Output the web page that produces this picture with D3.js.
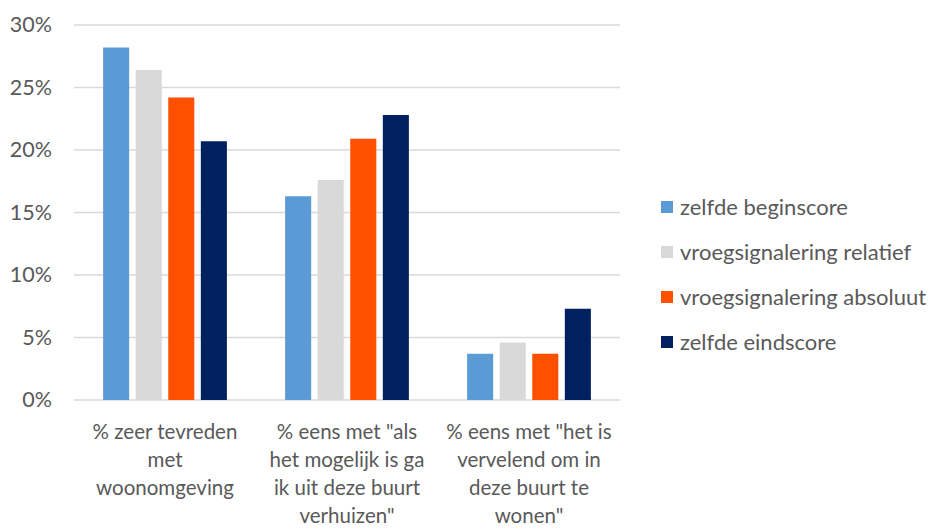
<html>
<head>
<style type="text/css">
	body { margin: 0; background: white; }
	.chart text { font-family: Lato, "Open Sans", sans-serif; fill: #595959; }
</style>
</head>
<body>
<svg class="chart" width="935" height="529"></svg>
<script src="https://d3js.org/d3.v7.min.js"></script>
<script>
// categories, each one already split into lines like in the picture
var categories = ["tevreden", "verhuizen", "vervelend"];
var categoryLines = [
	["% zeer tevreden", "met", "woonomgeving"],
	["% eens met \"als", "het mogelijk is ga", "ik uit deze buurt", "verhuizen\""],
	["% eens met \"het is", "vervelend om in", "deze buurt te", "wonen\""]
];

var seriesNames = ["zelfde beginscore", "vroegsignalering relatief", "vroegsignalering absoluut", "zelfde eindscore"];
var seriesColors = ["#5b9bd5", "#d9d9d9", "#ff5000", "#002060"];

// values in percent, one array per series, same order as categories
var beginscore = [28.2, 16.3, 3.7];
var relatief = [26.4, 17.6, 4.6];
var absoluut = [24.2, 20.9, 3.7];
var eindscore = [20.7, 22.8, 7.3];
var seriesValues = [beginscore, relatief, absoluut, eindscore];

var yTicks = [0, 5, 10, 15, 20, 25, 30];

var svg = d3.select("svg");

//Define Scales
var x0 = d3.scaleBand()
	.domain(categories)
	.range([74, 620])
	.paddingInner(0.32)
	.paddingOuter(0.16);

var x1 = d3.scaleBand()
	.domain(seriesNames)
	.range([0, x0.bandwidth()])
	.paddingInner(0.2);

var y = d3.scaleLinear()
	.domain([0, 30])
	.range([400, 25]);

//gridlines
svg.append("g")
	.selectAll("line")
	.data(yTicks)
	.enter()
	.append("line")
	.attr("x1", 74)
	.attr("x2", 620)
	.attr("y1", function(d) { return y(d); })
	.attr("y2", function(d) { return y(d); })
	.style("stroke", "#d9d9d9")
	.style("stroke-width", 1.5);

//y axis labels
var yAxis = svg.append("g")
	.attr("transform", "translate(52,0)")
	.call(d3.axisLeft(y)
		.tickValues(yTicks)
		.tickSize(0)
		.tickPadding(0)
		.tickFormat(function(d) { return d + "%"; }));
yAxis.select(".domain").remove();
yAxis.selectAll("text")
	.style("font-size", "21.5px")
	.style("font-family", "Lato, sans-serif")
	.style("fill", "#595959");

//bars
var groups = svg.append("g")
	.selectAll("g")
	.data(categories)
	.enter()
	.append("g")
	.attr("transform", function(d) { return "translate(" + x0(d) + ",0)"; });

groups.selectAll("rect")
	.data(function(d, ci) {
		return seriesNames.map(function(s, si) {
			return {series: s, color: seriesColors[si], value: seriesValues[si][ci]};
		});
	})
	.enter()
	.append("rect")
	.attr("x", function(d) { return x1(d.series); })
	.attr("y", function(d) { return y(d.value); })
	.attr("width", x1.bandwidth())
	.attr("height", function(d) { return y(0) - y(d.value); })
	.style("fill", function(d) { return d.color; });

//category labels
var labels = svg.append("g")
	.selectAll("text")
	.data(categories)
	.enter()
	.append("text")
	.attr("text-anchor", "middle")
	.style("font-size", "20.5px");

labels.selectAll("tspan")
	.data(function(d, i) { return categoryLines[i]; })
	.enter()
	.append("tspan")
	.attr("x", function() { var c = d3.select(this.parentNode).datum(); return x0(c) + x0.bandwidth() / 2; })
	.attr("y", function(d, i) { return 439 + i * 28; })
	.text(function(d) { return d; });

//legend
var legend = svg.append("g")
	.selectAll("g")
	.data(seriesNames)
	.enter()
	.append("g")
	.attr("transform", function(d, i) { return "translate(661," + (207 + i * 45) + ")"; });

legend.append("rect")
	.attr("x", 0)
	.attr("y", -6)
	.attr("width", 12)
	.attr("height", 12)
	.style("fill", function(d, i) { return seriesColors[i]; });

legend.append("text")
	.attr("x", 19)
	.attr("y", 0)
	.attr("dy", "0.35em")
	.style("font-size", "22px")
	.text(function(d) { return d; });
</script>
</body>
</html>
